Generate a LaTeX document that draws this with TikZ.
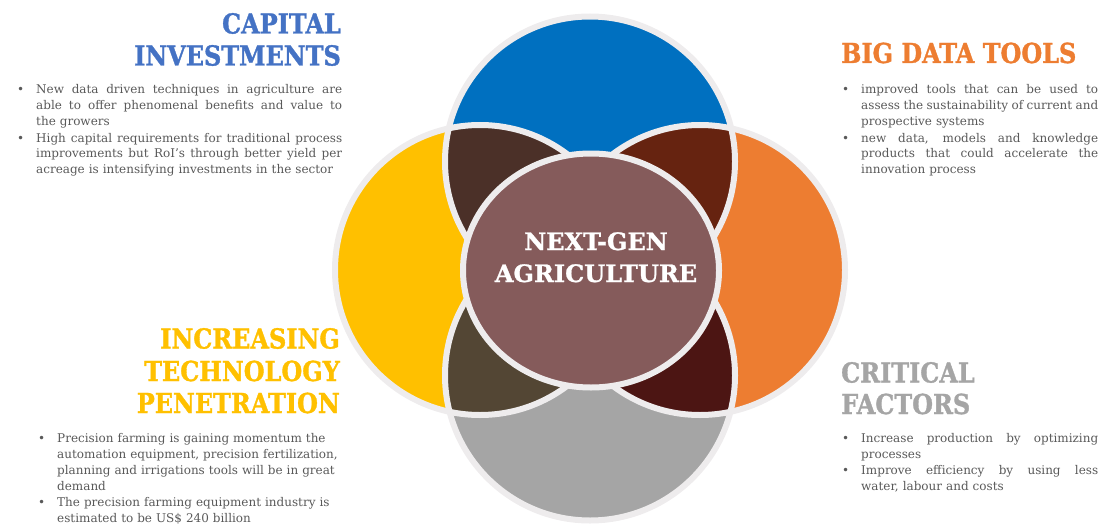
\documentclass[tikz,border=0pt]{standalone}
\usepackage{fontspec}
\setmainfont{DejaVu Serif}
\newfontfamily\ttlfont[FakeStretch=0.87,FakeBold=1.2]{DejaVu Serif}
\newfontfamily\midfont[FakeBold=1]{DejaVu Serif}
\definecolor{cblue}{HTML}{0070C0}
\definecolor{corange}{HTML}{ED7D31}
\definecolor{cgray}{HTML}{A5A5A5}
\definecolor{cyellow}{HTML}{FFC000}
\definecolor{cbord}{HTML}{EEECED}
\definecolor{lensTL}{HTML}{4B3028}
\definecolor{lensTR}{HTML}{662310}
\definecolor{lensBL}{HTML}{534634}
\definecolor{lensBR}{HTML}{4C1513}
\definecolor{cmid}{HTML}{855B5B}
\definecolor{tblue}{HTML}{4472C4}
\definecolor{tgray}{HTML}{A5A5A5}
\definecolor{bodygray}{HTML}{595959}
\newcommand\jl[2]{\makebox[#1][s]{\spaceskip=.3333em plus 1fil minus .1em\relax #2}}
\newcommand\bul{\makebox[19pt][l]{\textbullet}}
\newcommand\ind{\hspace*{19pt}}
\tikzset{
  ring/.style={draw=cbord, line width=6pt},
  ttl/.style={font=\ttlfont\bfseries\fontsize{27.5}{32}\selectfont, inner sep=0pt},
  body/.style={font=\fontsize{12}{16}\selectfont, text=bodygray, inner sep=0pt, align=left, anchor=base west},
  midtxt/.style={font=\midfont\bfseries\fontsize{24}{32}\selectfont, text=white, inner sep=0pt, anchor=base}
}
\begin{document}
\begin{tikzpicture}[x=1pt,y=-1pt]
\useasboundingbox (0,0) rectangle (1099,524);
\coordinate (cB) at (590,161.5);
\coordinate (cY) at (480,270);
\coordinate (cO) at (700,270);
\coordinate (cG) at (590,375.5);
\coordinate (cM) at (591,270.5);
% circles
\fill[cblue] (cB) circle (145pt);
\fill[corange] (cO) circle (145pt);
\fill[cgray] (cG) circle (145pt);
\fill[cyellow] (cY) circle (145pt);
% lenses
\begin{scope}\clip (cY) circle (145pt); \fill[lensTL] (cB) circle (145pt);\end{scope}
\begin{scope}\clip (cO) circle (145pt); \fill[lensTR] (cB) circle (145pt);\end{scope}
\begin{scope}\clip (cY) circle (145pt); \fill[lensBL] (cG) circle (145pt);\end{scope}
\begin{scope}\clip (cO) circle (145pt); \fill[lensBR] (cG) circle (145pt);\end{scope}
% borders
\draw[ring] (cB) circle (145pt);
\draw[ring] (cO) circle (145pt);
\draw[ring] (cG) circle (145pt);
\draw[ring] (cY) circle (145pt);
% centre
\filldraw[ring, fill=cmid] (cM) ellipse [x radius=128pt, y radius=117pt];
\node[midtxt] (m1) at (596,250) {NEXT-GEN};
\node[midtxt] (m2) at (596,282) {AGRICULTURE};
% titles
\node[ttl, text=tblue, anchor=base east] (t1a) at (341,33.5) {CAPITAL};
\node[ttl, text=tblue, anchor=base east] (t1b) at (341,65.5) {INVESTMENTS};
\node[ttl, text=corange, anchor=base west] (t2) at (841,63) {BIG DATA TOOLS};
\node[ttl, text=tgray, anchor=base west] (t3a) at (841,382.5) {CRITICAL};
\node[ttl, text=tgray, anchor=base west] (t3b) at (841,414) {FACTORS};
\node[ttl, text=cyellow, anchor=base east] (t4a) at (340,348.5) {INCREASING};
\node[ttl, text=cyellow, anchor=base east] (t4b) at (340,381) {TECHNOLOGY};
\node[ttl, text=cyellow, anchor=base east] (t4c) at (340,413) {PENETRATION};
% bodies
\node[body, text width=330pt] (b1) at (17,94) {%
\bul\jl{306pt}{New data driven techniques in agriculture are}\\
\ind\jl{306pt}{able to offer phenomenal benefits and value to}\\
\ind the growers\\
\bul\jl{306pt}{High capital requirements for traditional process}\\
\ind\jl{306pt}{improvements but RoI's through better yield per}\\
\ind acreage is intensifying investments in the sector};
\node[body, text width=260pt] (b2) at (842,94) {%
\bul\jl{237pt}{improved tools that can be used to}\\
\ind\jl{237pt}{assess the sustainability of current and}\\
\ind prospective systems\\
\bul\jl{237pt}{new data, models and knowledge}\\
\ind\jl{237pt}{products that could accelerate the}\\
\ind innovation process};
\node[body, text width=260pt] (b3) at (842,442) {%
\bul\jl{237pt}{Increase production by optimizing}\\
\ind processes\\
\bul\jl{237pt}{Improve efficiency by using less}\\
\ind water, labour and costs};
\node[body, text width=320pt] (b4) at (38,442) {%
\bul Precision farming is gaining momentum the\\
\ind automation equipment, precision fertilization,\\
\ind planning and irrigations tools will be in great\\
\ind demand\\
\bul The precision farming equipment industry is\\
\ind estimated to be US\$ 240 billion};
\end{tikzpicture}
\end{document}
